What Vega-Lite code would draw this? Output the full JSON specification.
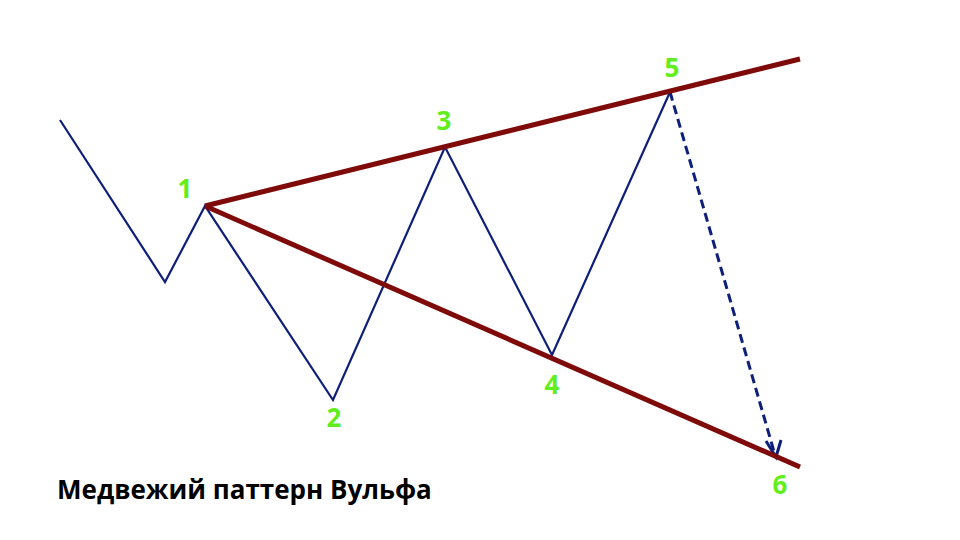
{
  "$schema": "https://vega.github.io/schema/vega-lite/v6.json",
  "autosize": {"type": "fit", "contains": "padding"},
  "width": 960,
  "height": 540,
  "padding": 0,
  "background": "white",
  "config": {"view": {"stroke": null}},
  "datasets": {
    "zigzag": [
      {"i": 0, "x": 60, "y": 120},
      {"i": 1, "x": 165, "y": 282},
      {"i": 2, "x": 205, "y": 206},
      {"i": 3, "x": 333, "y": 400},
      {"i": 4, "x": 445, "y": 147},
      {"i": 5, "x": 552, "y": 355},
      {"i": 6, "x": 670, "y": 92}
    ],
    "trend": [
      {"line": "upper", "i": 0, "x": 205, "y": 206},
      {"line": "upper", "i": 1, "x": 800, "y": 59},
      {"line": "lower", "i": 0, "x": 205, "y": 206},
      {"line": "lower", "i": 1, "x": 800, "y": 467}
    ],
    "target": [
      {"i": 0, "x": 670, "y": 92},
      {"i": 1, "x": 775, "y": 455}
    ],
    "head": [
      {"i": 0, "x": 766, "y": 441},
      {"i": 1, "x": 776, "y": 457},
      {"i": 2, "x": 781, "y": 440}
    ],
    "labels": [
      {"label": "1", "x": 185, "y": 190},
      {"label": "2", "x": 334, "y": 419},
      {"label": "3", "x": 444, "y": 122},
      {"label": "4", "x": 552, "y": 386},
      {"label": "5", "x": 672, "y": 69},
      {"label": "6", "x": 780, "y": 486}
    ],
    "title": [
      {"text": "Медвежий паттерн Вульфа", "x": 57, "y": 499}
    ]
  },
  "layer": [
    {
      "data": {"name": "zigzag"},
      "mark": {"type": "line", "color": "#0d1f7a", "strokeWidth": 2.2},
      "encoding": {
        "x": {"field": "x", "type": "quantitative", "scale": {"domain": [0, 960]}, "axis": null},
        "y": {"field": "y", "type": "quantitative", "scale": {"domain": [540, 0]}, "axis": null},
        "order": {"field": "i"}
      }
    },
    {
      "data": {"name": "target"},
      "mark": {"type": "line", "color": "#0d1f7a", "strokeWidth": 3, "strokeDash": [9, 5]},
      "encoding": {
        "x": {"field": "x", "type": "quantitative", "scale": {"domain": [0, 960]}, "axis": null},
        "y": {"field": "y", "type": "quantitative", "scale": {"domain": [540, 0]}, "axis": null},
        "order": {"field": "i"}
      }
    },
    {
      "data": {"name": "head"},
      "mark": {"type": "line", "color": "#0d1f7a", "strokeWidth": 3, "strokeJoin": "miter"},
      "encoding": {
        "x": {"field": "x", "type": "quantitative", "scale": {"domain": [0, 960]}, "axis": null},
        "y": {"field": "y", "type": "quantitative", "scale": {"domain": [540, 0]}, "axis": null},
        "order": {"field": "i"}
      }
    },
    {
      "data": {"name": "trend"},
      "mark": {"type": "line", "color": "#7f0a0a", "strokeWidth": 5, "strokeCap": "butt"},
      "encoding": {
        "x": {"field": "x", "type": "quantitative", "scale": {"domain": [0, 960]}, "axis": null},
        "y": {"field": "y", "type": "quantitative", "scale": {"domain": [540, 0]}, "axis": null},
        "detail": {"field": "line"},
        "order": {"field": "i"}
      }
    },
    {
      "data": {"name": "labels"},
      "mark": {"type": "text", "color": "#62ee1c", "font": "Open Sans", "fontWeight": "bold", "fontSize": 26, "align": "center", "baseline": "middle"},
      "encoding": {
        "x": {"field": "x", "type": "quantitative", "scale": {"domain": [0, 960]}, "axis": null},
        "y": {"field": "y", "type": "quantitative", "scale": {"domain": [540, 0]}, "axis": null},
        "text": {"field": "label"}
      }
    },
    {
      "data": {"name": "title"},
      "mark": {"type": "text", "color": "#000000", "font": "Open Sans", "fontWeight": "bold", "fontSize": 26, "align": "left", "baseline": "alphabetic"},
      "encoding": {
        "x": {"field": "x", "type": "quantitative", "scale": {"domain": [0, 960]}, "axis": null},
        "y": {"field": "y", "type": "quantitative", "scale": {"domain": [540, 0]}, "axis": null},
        "text": {"field": "text"}
      }
    }
  ]
}
